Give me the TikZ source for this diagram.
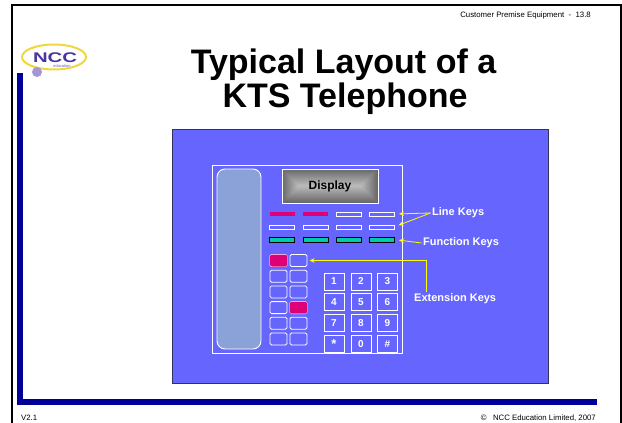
\documentclass[tikz,border=0pt]{standalone}
\usepackage{fontspec}
\setmainfont{Liberation Sans}
\usetikzlibrary{arrows.meta,calc}

\definecolor{panelblue}{RGB}{102,102,255}
\definecolor{paneledge}{RGB}{50,50,90}
\definecolor{navy}{RGB}{0,0,153}
\definecolor{handset}{RGB}{138,162,216}
\definecolor{keymag}{RGB}{221,0,119}
\definecolor{keyteal}{RGB}{0,204,170}
\definecolor{dispout}{RGB}{105,105,105}
\definecolor{dispin}{RGB}{185,185,185}
\definecolor{callout}{RGB}{255,255,0}
\definecolor{logoblue}{RGB}{72,52,160}
\definecolor{logoyellow}{RGB}{240,215,60}
\definecolor{logoball}{RGB}{165,150,215}

\tikzset{
  px/.style={inner sep=0pt, outer sep=0pt},
  linekey/.style={px, draw=white, line width=0.8pt, minimum width=25pt, minimum height=4pt},
  hotkey/.style={px, fill=keymag, minimum width=25pt, minimum height=4pt},
  funckey/.style={px, draw=black, fill=keyteal, line width=0.8pt, minimum width=25pt, minimum height=5pt},
  extkey/.style={px, draw=white, line width=0.8pt, rounded corners=1.5pt, minimum width=17pt, minimum height=12pt},
  padkey/.style={px, draw=white, line width=0.9pt, minimum width=20pt, minimum height=17pt,
    text=white, font=\fontsize{10}{10}\selectfont\bfseries},
  calllabel/.style={inner sep=1.5pt, text=white, font=\fontsize{11}{12}\selectfont\bfseries},
  arr/.style={draw=callout, line width=0.8pt, -{Stealth[length=5pt,width=4.5pt]}},
  smalltext/.style={inner sep=0pt, font=\fontsize{7.8}{8}\selectfont},
}

\begin{document}
\begin{tikzpicture}[x=1pt,y=-1pt]
  \useasboundingbox (0,0) rectangle (622,423);
  \fill[white] (0,0) rectangle (622,423);

  % slide frame and navy L-bar
  \draw[line width=1.7pt] (12.3,423) -- (12.3,5.3) -- (620.7,5.3) -- (620.7,423);
  \fill[navy] (17,73) rectangle (23,405);
  \fill[navy] (17,399) rectangle (597,405);

  % logo
  \draw[logoyellow, line width=2pt] (54,57) ellipse [x radius=32, y radius=12.5];
  \node[px, text=logoblue, font=\fontsize{14}{14}\selectfont\bfseries] (logo) at (55,57.5)
    {\scalebox{1.45}[1]{NCC}};
  \node[px, text=logoblue!80, font=\fontsize{4}{4}\selectfont] (logosub) at (62,66) {education};
  \fill[logoball] (37,72) circle (5);

  % header, footer
  \node[smalltext, anchor=base east] (hdr) at (591,17.5) {Customer Premise Equipment \ - \ 13.8};
  \node[smalltext, anchor=base west] (ver) at (21,420.5) {V2.1};
  \node[smalltext, anchor=base east] (copy) at (596,420.5) {©\ \ \ NCC Education Limited, 2007};

  % title
  \node[px, font=\fontsize{34}{34}\selectfont\bfseries, anchor=base] (t1) at (343.5,73) {Typical Layout of a};
  \node[px, font=\fontsize{34}{34}\selectfont\bfseries, anchor=base] (t2) at (345,107) {KTS Telephone};

  % blue panel
  \draw[paneledge, fill=panelblue, line width=0.8pt] (172,129) rectangle (548,383);

  % telephone body and handset
  \draw[white, line width=0.8pt] (212,165) rectangle (402,353);
  \draw[white, fill=handset, line width=0.9pt, rounded corners=8pt] (217,169) rectangle (261,349);

  % display with beveled grey gradient
  \foreach \d in {0,...,16} {
    \pgfmathtruncatemacro\p{100*\d/16}
    \fill[dispin!\p!dispout] (282+\d,169+\d) rectangle (378-\d,203-\d);
  }
  \node[px, draw=white, line width=0.9pt, minimum width=96pt, minimum height=34pt,
        font=\fontsize{12}{12}\selectfont\bfseries] (disp) at (330,186) {Display};

  % line keys
  \node[hotkey]  (l1) at (282,214) {};
  \node[hotkey]  (l2) at (315.5,214) {};
  \node[linekey] (l3) at (349,214) {};
  \node[linekey] (l4) at (381.5,214) {};
  \node[linekey] (l5) at (282,227) {};
  \node[linekey] (l6) at (315.5,227) {};
  \node[linekey] (l7) at (349,227) {};
  \node[linekey] (l8) at (381.5,227) {};

  % function keys
  \node[funckey] (f1) at (282,239.5) {};
  \node[funckey] (f2) at (315.5,239.5) {};
  \node[funckey] (f3) at (349,239.5) {};
  \node[funckey] (f4) at (381.5,239.5) {};

  % extension keys
  \foreach \r/\y in {1/260.5,2/276.2,3/291.9,4/307.6,5/323.3,6/339} {
    \node[extkey] (e\r a) at (278.5,\y) {};
    \node[extkey] (e\r b) at (298.5,\y) {};
  }
  \fill[keymag, rounded corners=1.5pt] (270,254.5) rectangle (287,266.5);
  \fill[keymag, rounded corners=1.5pt] (290,301.6) rectangle (307,313.6);

  % dial pad
  \node[padkey] (k1) at (334,281.5) {1};
  \node[padkey] (k2) at (361,281.5) {2};
  \node[padkey] (k3) at (387.5,281.5) {3};
  \node[padkey] (k4) at (334,302.2) {4};
  \node[padkey] (k5) at (361,302.2) {5};
  \node[padkey] (k6) at (387.5,302.2) {6};
  \node[padkey] (k7) at (334,322.9) {7};
  \node[padkey] (k8) at (361,322.9) {8};
  \node[padkey] (k9) at (387.5,322.9) {9};
  \node[padkey] (kst) at (334,343.6) {\raisebox{-4pt}{\fontsize{13}{13}\selectfont *}};
  \node[padkey] (k0) at (361,343.6) {0};
  \node[padkey] (khs) at (387.5,343.6) {\#};

  % callout labels
  \node[calllabel, anchor=west] (lineLbl) at (430.5,213) {Line Keys};
  \node[calllabel, anchor=west] (funcLbl) at (421.5,243) {Function Keys};
  \node[calllabel, anchor=west] (extLbl)  at (412.5,298.5) {Extension Keys};

  % callout arrows
  \draw[arr, shorten >=5pt] (lineLbl.west) -- (l4.east);
  \draw[arr, shorten >=5pt] (lineLbl.west) -- (l8.east);
  \draw[arr, shorten >=5pt] (funcLbl.west) -- (f4.east);
  \draw[arr, shorten >=2.5pt] ($(extLbl.north west)+(13.5,0)$) |- (e1b.east);
\end{tikzpicture}
\end{document}
